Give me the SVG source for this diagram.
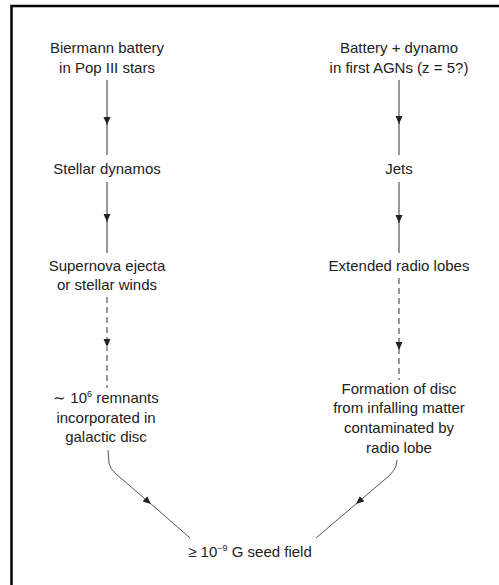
<svg xmlns="http://www.w3.org/2000/svg" width="499" height="585" viewBox="0 0 499 585">
<defs>
<style>
.t{font-family:"Liberation Sans",Arial,sans-serif;font-size:15px;fill:#222;text-anchor:middle}
.c{fill:none;stroke:#333;stroke-width:1}
.d{fill:none;stroke:#333;stroke-width:1;stroke-dasharray:6 4}
.g{fill:none;stroke:#555;stroke-width:1}
</style>
<marker id="ah" markerUnits="userSpaceOnUse" markerWidth="9" markerHeight="8" refX="8" refY="3.5" orient="auto">
<path d="M0,0 L8,3.5 L0,7 z" fill="#222"/>
</marker>
</defs>
<rect width="499" height="585" fill="#fff"/>
<path d="M11.5 585 V6 H499" fill="none" stroke="#000" stroke-width="2.5"/>

<g id="n1"><text class="t" x="107" y="53">Biermann battery</text><text class="t" x="107" y="73">in Pop III stars</text></g>
<g id="n2"><text class="t" x="107" y="174">Stellar dynamos</text></g>
<g id="n3"><text class="t" x="107" y="271">Supernova ejecta</text><text class="t" x="107" y="290">or stellar winds</text></g>
<g id="n4"><text class="t" x="106" y="403">∼ 10<tspan font-size="9" dy="-6">6</tspan><tspan dy="6"> remnants</tspan></text><text class="t" x="106" y="423">incorporated in</text><text class="t" x="106" y="442">galactic disc</text></g>

<g id="n5"><text class="t" x="399" y="53">Battery + dynamo</text><text class="t" x="399" y="73">in first AGNs (z = 5?)</text></g>
<g id="n6"><text class="t" x="399" y="174">Jets</text></g>
<g id="n7"><text class="t" x="399" y="271">Extended radio lobes</text></g>
<g id="n8"><text class="t" x="399" y="394">Formation of disc</text><text class="t" x="399" y="413">from infalling matter</text><text class="t" x="399" y="433">contaminated by</text><text class="t" x="399" y="453">radio lobe</text></g>

<g id="n9"><text class="t" x="250" y="557">≥ 10<tspan font-size="9" dy="-6">−9</tspan><tspan dy="6"> G seed field</tspan></text></g>

<g id="connectors">
<path class="c" d="M107 80 V125" marker-end="url(#ah)"/><path class="c" d="M107 124 V155"/>
<path class="c" d="M107 182 V222" marker-end="url(#ah)"/><path class="c" d="M107 221 V253"/>
<path class="d" d="M107 297 V347" marker-end="url(#ah)"/><path class="d" d="M107 347 V388" stroke-dashoffset="2"/>
<path class="c" d="M399 80 V124" marker-end="url(#ah)"/><path class="c" d="M399 123 V155"/>
<path class="c" d="M399 182 V223" marker-end="url(#ah)"/><path class="c" d="M399 222 V253"/>
<path class="d" d="M399 278 V350" marker-end="url(#ah)"/><path class="d" d="M399 350 V380" stroke-dashoffset="2"/>
<path class="g" d="M108 450 L109 463 Q110 469 116 474 L151 504" marker-end="url(#ah)"/><path class="g" d="M150 503 L190 538"/>
<path class="g" d="M397 460 L396 466 Q394 471 390 475 L356 504" marker-end="url(#ah)"/><path class="g" d="M357 503 L316 538"/>
</g>
</svg>
